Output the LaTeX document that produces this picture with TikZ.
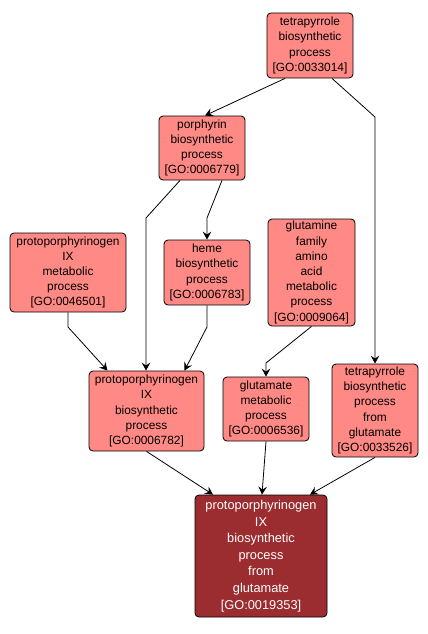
\documentclass[tikz,border=0pt]{standalone}
\usepackage{fontspec}
\setmainfont{Liberation Sans}
\usetikzlibrary{calc,arrows.meta}
\definecolor{gofill}{RGB}{255,137,132}
\definecolor{gotarget}{RGB}{155,44,47}
\begin{document}
\begin{tikzpicture}[x=1pt,y=-1pt,
  goterm/.style={draw=black,line width=0.8pt,rounded corners=4pt,fill=gofill,align=center,inner sep=0pt,
    font=\fontsize{11.9}{15.2}\selectfont},
  gotgt/.style={goterm,fill=gotarget,text=white,font=\fontsize{12.8}{16.6}\selectfont},
  goedge/.style={line width=0.8pt,-{Stealth[length=8pt,width=8.5pt,inset=3pt]}}]
\useasboundingbox (0,0) rectangle (428,634);
\node[goterm,minimum width=86,minimum height=65] (A) at (310,45.5) {tetrapyrrole\\biosynthetic\\process\\{[GO:0033014]}};
\node[goterm,minimum width=86,minimum height=64] (B) at (202,148) {porphyrin\\biosynthetic\\process\\{[GO:0006779]}};
\node[goterm,minimum width=116,minimum height=79] (C) at (68,272.5) {protoporphyrinogen\\IX\\metabolic\\process\\{[GO:0046501]}};
\node[goterm,minimum width=86,minimum height=65] (D) at (207,272.5) {heme\\biosynthetic\\process\\{[GO:0006783]}};
\node[goterm,minimum width=87,minimum height=107] (E) at (311.5,272.5) {glutamine\\family\\amino\\acid\\metabolic\\process\\{[GO:0009064]}};
\node[goterm,minimum width=115,minimum height=80] (F) at (146.5,411) {protoporphyrinogen\\IX\\biosynthetic\\process\\{[GO:0006782]}};
\node[goterm,minimum width=86,minimum height=64] (G) at (266,409) {glutamate\\metabolic\\process\\{[GO:0006536]}};
\node[goterm,minimum width=86,minimum height=93] (H) at (375,410.5) {tetrapyrrole\\biosynthetic\\process\\from\\glutamate\\{[GO:0033526]}};
\node[gotgt,minimum width=132,minimum height=122] (I) at (261,556) {protoporphyrinogen\\IX\\biosynthetic\\process\\from\\glutamate\\{[GO:0019353]}};
\coordinate (ah) at (375,117);
\coordinate (bf) at (146,218);
\coordinate (bd) at (207,218);
\coordinate (cf) at (68,327);
\coordinate (df) at (207,327);
\coordinate (eg) at (266,363);
\draw[goedge] ($(A.south)+(-25,0)$) -- ($(B.north)+(3,0)$);
\draw[goedge] ($(A.south)+(22,0)$) -- (ah) -- (H.north);
\draw[goedge] ($(B.south)+(-22,0)$) -- (bf) -- (F.north -| bf);
\draw[goedge] ($(B.south)+(20,0)$) -- (bd) -- (D.north);
\draw[goedge] (C.south) -- (cf) -- ($(F.north)+(-39,0)$);
\draw[goedge] (D.south) -- (df) -- ($(F.north)+(38,0)$);
\draw[goedge] (E.south) -- (eg) -- (G.north);
\draw[goedge] (F.south) -- ($(I.north)+(-48,0)$);
\draw[goedge] (G.south) -- ($(I.north)+(1,0)$);
\draw[goedge] (H.south) -- ($(I.north)+(49,0)$);
\end{tikzpicture}
\end{document}
